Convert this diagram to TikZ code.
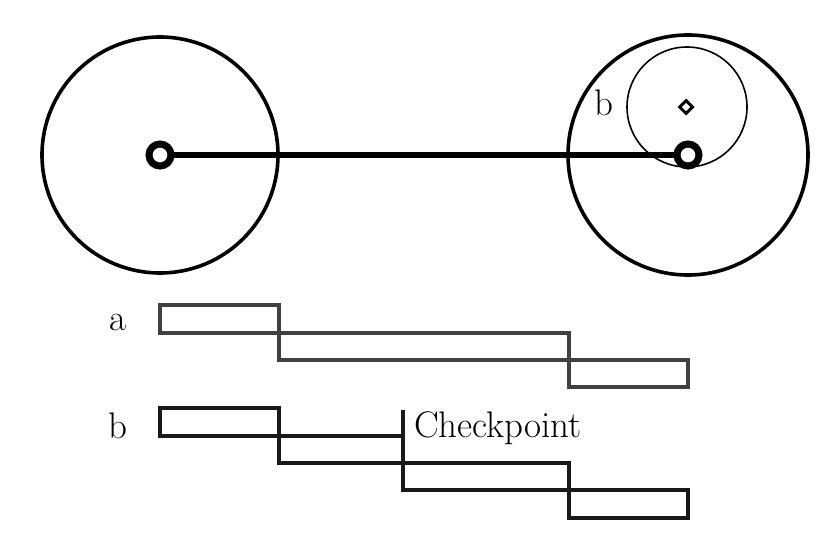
\documentclass[tikz,border=0pt]{standalone}
\usepackage{fontspec}
\usepackage{tikz}
\usetikzlibrary{shapes.geometric}

\begin{document}
\begin{tikzpicture}[
	x=1pt, y=-1pt,
	bigring/.style = {circle, draw, line width=3.6pt, minimum size=236pt, inner sep=0pt},
	hub/.style = {circle, draw, line width=7pt, minimum size=22pt, inner sep=0pt, fill=white},
	lbl/.style = {font=\fontsize{37}{40}\selectfont, inner sep=0pt},
	bara/.style = {draw=black!75, line width=4pt},
	barb/.style = {draw=black!90, line width=4.4pt}]
	\useasboundingbox (0,0) rectangle (830,554);
	% wheels
	\node[bigring] (wl) at (160,155) {};
	\node[bigring, minimum size=240pt] (wr) at (688,155) {};
	\node[circle, draw, line width=1.6pt, minimum size=120pt] (orb) at (687,107) {};
	\draw[line width=5.5pt] (160,155) -- (688,155);
	\node[hub] (hl) at (160,155) {};
	\node[hub] (hr) at (688,155) {};
	\node[diamond, draw, line width=3pt, minimum size=14pt, inner sep=0pt] (pt) at (686,107) {};
	\node[lbl] (lb) at (604,103) {b};
	% schedule a
	\node[lbl] (la) at (118,322) {a};
	\draw[bara] (160,305) rectangle (279,333);
	\draw[bara] (279,333) rectangle (569,360);
	\draw[bara] (569,360) rectangle (688,387);
	% schedule b
	\node[lbl] (lb2) at (118,426) {b};
	\draw[barb] (160,408) rectangle (279,436);
	\draw[barb] (279,436) rectangle (403,463);
	\draw[barb] (403,463) rectangle (569,490);
	\draw[barb] (569,490) rectangle (688,518);
	\coordinate (ck) at (403,410);
	\draw[barb] (ck) -- (403,463);
	\node[lbl, anchor=west] (ckt) at (414,428) {Checkpoint};
\end{tikzpicture}
\end{document}
